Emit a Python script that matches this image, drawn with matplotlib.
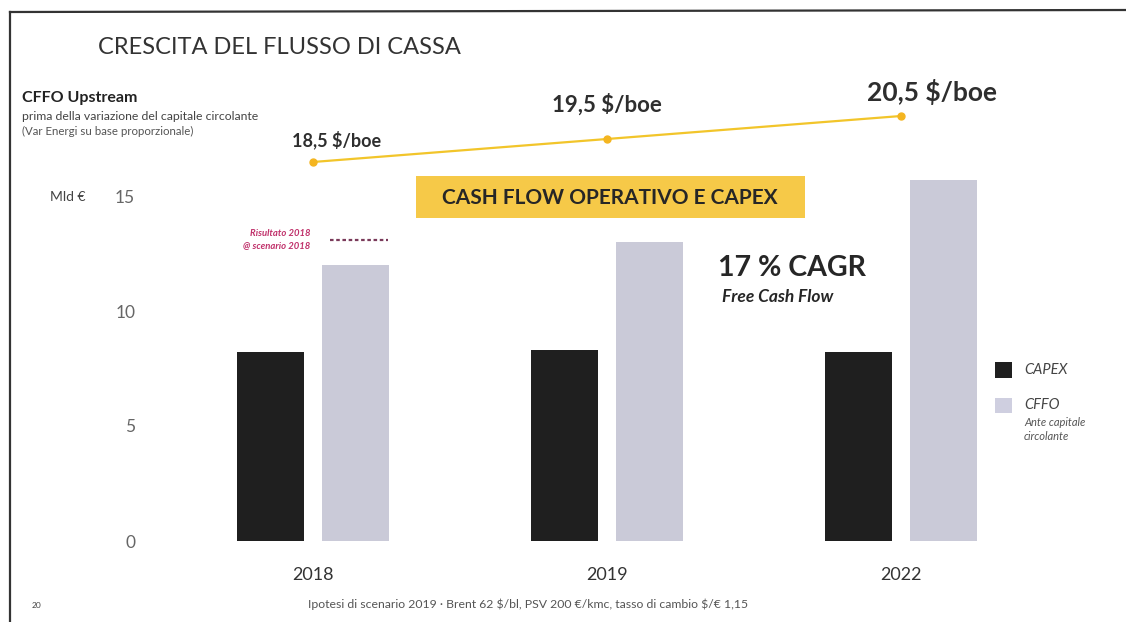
import matplotlib
matplotlib.use("Agg")
import matplotlib.pyplot as plt
from matplotlib.patches import Rectangle
from matplotlib.lines import Line2D

plt.rcParams['font.family'] = ['Lato', 'DejaVu Sans']

# Data
years = ["2018", "2019", "2022"]
capex = [8.2, 8.3, 8.2]
cffo = [12.0, 13.0, 15.7]
cffo_target_2018 = 13.1
price_boe = [18.5, 19.5, 20.5]
price_labels = ["18,5 \\$/boe", "19,5 \\$/boe", "20,5 \\$/boe"]
y_ticks = [0, 5, 10, 15]

W, H = 1126, 622
fig = plt.figure(figsize=(W / 100, H / 100), dpi=100)
fig.patch.set_facecolor("white")


def fx(px):
    return px / W


def fy(py):
    return 1 - py / H


# main axes: value 0 at pixel 541, 23 px per unit
ax_bottom, ax_top = 541, 60
ax = fig.add_axes([fx(136.6), fy(ax_bottom), fx(1018.6) - fx(136.6), (ax_bottom - ax_top) / H])
ax.set_xlim(-0.6, 2.4)
ax.set_ylim(0, (ax_bottom - ax_top) / 23.0)
for s in ax.spines.values():
    s.set_visible(False)
ax.patch.set_alpha(0)

x = range(len(years))
bw = 0.228
off = 0.145
ax.bar([i - off for i in x], capex, width=bw, color="#1f1f1f", zorder=2)
ax.bar([i + off for i in x], cffo, width=bw, color="#cacad8", zorder=2)

# 2018 result marker above the CFFO bar
ax.plot([0.058, 0.255], [cffo_target_2018] * 2, color="#7a3a5a", lw=1.6,
        ls=(0, (1.6, 1.2)), zorder=3)
ax.text(-0.01, cffo_target_2018 + 0.27, "Risultato 2018", ha="right", va="center",
        fontsize=6.8, color="#c0306a", style="italic", fontweight="bold")
ax.text(-0.01, cffo_target_2018 - 0.27, "@ scenario 2018", ha="right", va="center",
        fontsize=6.8, color="#c0306a", style="italic", fontweight="bold")

ax.set_yticks(y_ticks)
ax.set_yticklabels([str(v) for v in y_ticks])
ax.set_xticks(list(x))
ax.set_xticklabels(years)
ax.tick_params(axis="y", length=0, pad=1, labelsize=12.5, labelcolor="#666666")
ax.tick_params(axis="x", length=0, pad=19, labelsize=13, labelcolor="#333333")

# $/boe line on a twin scale
ax2 = ax.twinx()
ax2.set_ylim(18.5 - (ax_bottom - 162) / 23.0, 18.5 + (162 - ax_top) / 23.0)
ax2.axis("off")
ax2.plot(list(x), price_boe, color="#f2c52a", lw=1.6, marker="o", ms=5,
         markerfacecolor="#f4b520", markeredgecolor="#f4b520", zorder=3)
label_offsets = [(17, 16), (0, 25), (22, 17)]
label_sizes = [13, 16, 19]
for i, (p, lab) in enumerate(zip(price_boe, price_labels)):
    ax2.annotate(lab, (i, p), xytext=label_offsets[i], textcoords="offset points",
                 ha="center", va="center", fontsize=label_sizes[i],
                 fontweight="bold", color="#2e2e2e")

# Header texts
fig.text(fx(98), fy(48), "CRESCITA DEL FLUSSO DI CASSA", fontsize=17,
         color="#333333", ha="left", va="center")
fig.text(fx(22), fy(98), "CFFO Upstream", fontsize=11.5, fontweight="bold",
         color="#222222", ha="left", va="center")
fig.text(fx(22), fy(117), "prima della variazione del capitale circolante",
         fontsize=8.8, color="#444444", ha="left", va="center")
fig.text(fx(22), fy(131), "(Var Energi su base proporzionale)",
         fontsize=8.3, color="#555555", ha="left", va="center")
fig.text(fx(50), fy(197), "Mld €", fontsize=10, color="#444444",
         ha="left", va="center")

# Highlight box
fig.patches.append(Rectangle((fx(416), fy(218)), fx(805) - fx(416), 42 / H,
                             transform=fig.transFigure, facecolor="#f6c948",
                             edgecolor="none", zorder=1))
fig.text(fx(610), fy(198), "CASH FLOW OPERATIVO E CAPEX", fontsize=15,
         fontweight="bold", color="#262626", ha="center", va="center", zorder=2)

# CAGR callout
fig.text(fx(718), fy(268), "17 % CAGR", fontsize=20.5, fontweight="bold",
         color="#262626", ha="left", va="center")
fig.text(fx(722), fy(297), "Free Cash Flow", fontsize=12.5, fontweight="bold",
         style="italic", color="#262626", ha="left", va="center")

# Legend
fig.patches.append(Rectangle((fx(995), fy(378)), fx(17), 16 / H,
                             transform=fig.transFigure, facecolor="#1f1f1f",
                             edgecolor="none"))
fig.patches.append(Rectangle((fx(995), fy(413)), fx(17), 15 / H,
                             transform=fig.transFigure, facecolor="#cfcfe0",
                             edgecolor="none"))
fig.text(fx(1024), fy(370), "CAPEX", fontsize=10.5, style="italic",
         color="#444444", ha="left", va="center")
fig.text(fx(1024), fy(405), "CFFO", fontsize=10.5, style="italic",
         color="#444444", ha="left", va="center")
fig.text(fx(1024), fy(422), "Ante capitale", fontsize=8, style="italic",
         color="#555555", ha="left", va="center")
fig.text(fx(1024), fy(437), "circolante", fontsize=8, style="italic",
         color="#555555", ha="left", va="center")

# Footer
fig.text(fx(37), fy(606), "20", fontsize=6, color="#444444",
         ha="center", va="center")
fig.text(fx(528), fy(604),
         "Ipotesi di scenario 2019 · Brent 62 \\$/bl, PSV 200 €/kmc, tasso di cambio \\$/€ 1,15",
         fontsize=8.8, color="#555555", ha="center", va="center")

# Page frame
fig.add_artist(Line2D([fx(10), fx(10)], [fy(12), 0], transform=fig.transFigure,
                      color="#333333", lw=1.6))
fig.add_artist(Line2D([fx(10), 1], [fy(12), fy(10)], transform=fig.transFigure,
                      color="#333333", lw=1.6))

fig.savefig("out.png", dpi=100, facecolor="white")
